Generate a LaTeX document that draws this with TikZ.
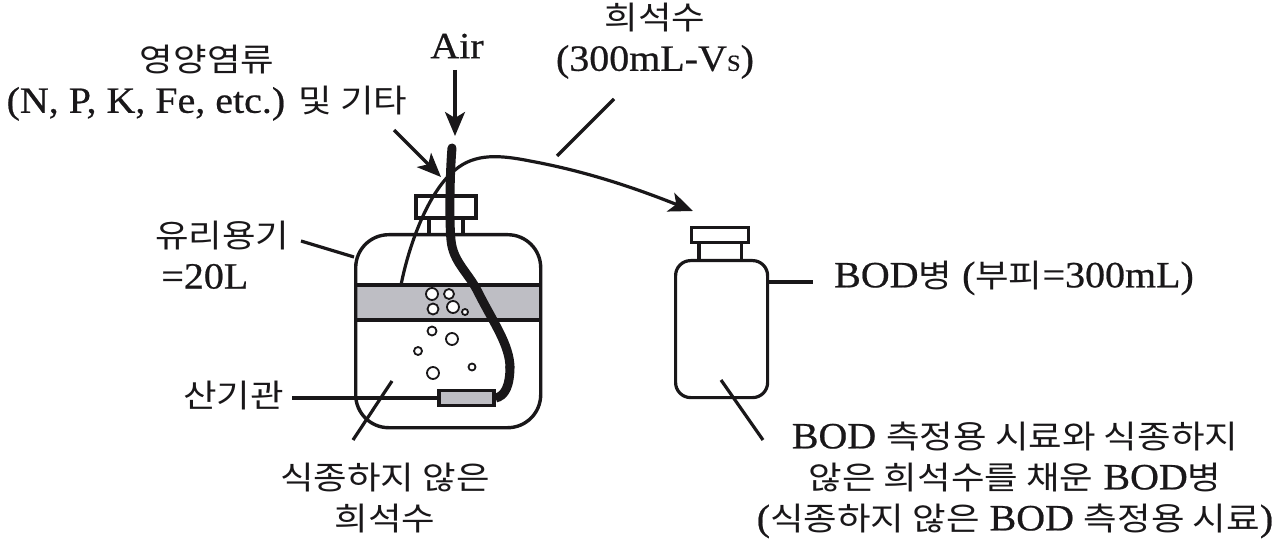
\documentclass[tikz,border=0pt]{standalone}
\usepackage{fontspec}
\setmainfont[FakeStretch=1.08,FakeBold=0.6]{Liberation Serif}
\newfontfamily\kr[FakeStretch=1.14]{Noto Sans CJK KR}
\usetikzlibrary{arrows.meta}
\definecolor{band}{RGB}{190,190,196}
\definecolor{ink}{RGB}{25,23,25}
\tikzset{
 lbl/.style={text=ink,font=\fontsize{37}{41}\selectfont,align=center,inner sep=0pt},
 ln/.style={draw=ink,line width=3.2pt},
 arr/.style={ln,-{Stealth[length=24pt,width=20pt,inset=6pt]}},
 bubble/.style={draw=ink,line width=1.8pt,fill=white,circle,inner sep=0pt},
 tube/.style={draw=ink,line width=9pt,line cap=round},
}
\newcommand{\K}[1]{{\kr\fontsize{32}{41}\selectfont #1}}
\begin{document}
\begin{tikzpicture}[x=1pt,y=-1pt]
\useasboundingbox (0,0) rectangle (1280,540);
% big bottle
\fill[band] (355,286) rectangle (541,320);
\draw[ln] (416,196) rectangle (476,218);
\draw[ln] (429,218)--(429,233) (463,218)--(463,233);
\node[draw=ink,line width=3.4pt,fill=none,rounded corners=33pt,minimum width=185pt,minimum height=193pt,inner sep=0pt,anchor=north west] (jar) at (354,233) {};
\draw[ln] (355,285)--(541,285) (355,320)--(541,320);
% small tube
\coordinate (bentA) at (401,285);
\coordinate (bentB) at (693,211);
\draw[ln,-{Stealth[length=24pt,width=20pt,inset=6pt]}] (bentA) .. controls (410,240) and (430,190) .. (455,170) .. controls (475,153) and (500,155) .. (530,161) .. controls (590,172) and (640,190) .. (bentB);
% diffuser
\node[draw=ink,line width=3.6pt,fill=band,minimum width=55pt,minimum height=15pt,inner sep=0pt,anchor=west] (diff) at (437,398) {};
% air tube
\coordinate (tubeT) at (452,148);
\draw[tube] (tubeT) .. controls (450,170) and (449,220) .. (451,240) .. controls (453,262) and (468,272) .. (478,292) .. controls (493,322) and (510,345) .. (510,368);
\draw[tube,line cap=butt] (510,366) .. controls (510,386) and (505,396) .. (diff.east);
% bubbles
\foreach \n/\x/\y/\d in {a/432/294/12,b/449/294/10,c/433/309/11,d/453/307/12,e/465/312/6,f/432/331/9,g/452/339/12,h/418/351/8,i/433/373/12,j/472/367/7}
  \node[bubble,minimum size=\d pt] (bub\n) at (\x,\y) {};
% labels
\node[lbl] (air) at (457,46) {Air};
\coordinate (airE) at (455,136);
\draw[arr] (455,70) coordinate (airS) -- (airE);
\node[lbl] (nut) at (207,83) {\K{영양염류}\\(N, P, K, Fe, etc.) \K{및 기타}};
\coordinate (nutE) at (441,177);
\draw[arr] (394,130) coordinate (nutS) -- (nutE);
\node[lbl] (dil) at (655,41) {\K{희석수}\\(300mL-V{\fontsize{23}{23}\selectfont S})};
\coordinate (dilS) at (614,99); \coordinate (dilE) at (557,156);
\draw[ln] (dilS)--(dilE);
\node[lbl,align=left,anchor=west] (glass) at (155,255) {\K{유리용기}\\\,=20L};
\coordinate (glassE) at (354,257);
\draw[ln] (301,241)--(glassE);
\node[lbl,anchor=west] (sangi) at (183,396) {\K{산기관}};
\draw[ln] (292,398) -- (diff.west);
\node[lbl] (water) at (385,498) {\K{식종하지 않은}\\\K{희석수}};
\coordinate (wS) at (392,381);\coordinate (wE) at (353,440);
\draw[ln] (wS)--(wE);
% BOD bottle
\node[draw=ink,line width=3.2pt,minimum width=57pt,minimum height=15pt,inner sep=0pt] (cap) at (720,235) {};
\draw[ln] (cap.south west)++(9,0) -- ++(0,16) (cap.south east)++(-9,0) -- ++(0,16);
\node[draw=ink,line width=3.2pt,fill=none,rounded corners=15pt,minimum width=92pt,minimum height=137pt,inner sep=0pt,anchor=north west] (bod) at (674,259) {};
\draw[ln] (bod.east|-0,282) coordinate (bE) -- (813,282);
\node[lbl,anchor=west] (bodl) at (834,278) {BOD\K{병} (\K{부피}=300mL)};
\coordinate (lS) at (721,380);\coordinate (lE) at (763,440);
\draw[ln] (lS)--(lE);
\node[lbl] (desc) at (1015,480) {BOD \K{측정용 시료와 식종하지}\\\K{않은 희석수를 채운} BOD\K{병}\\(\K{식종하지 않은} BOD \K{측정용 시료})};
\end{tikzpicture}
\end{document}
